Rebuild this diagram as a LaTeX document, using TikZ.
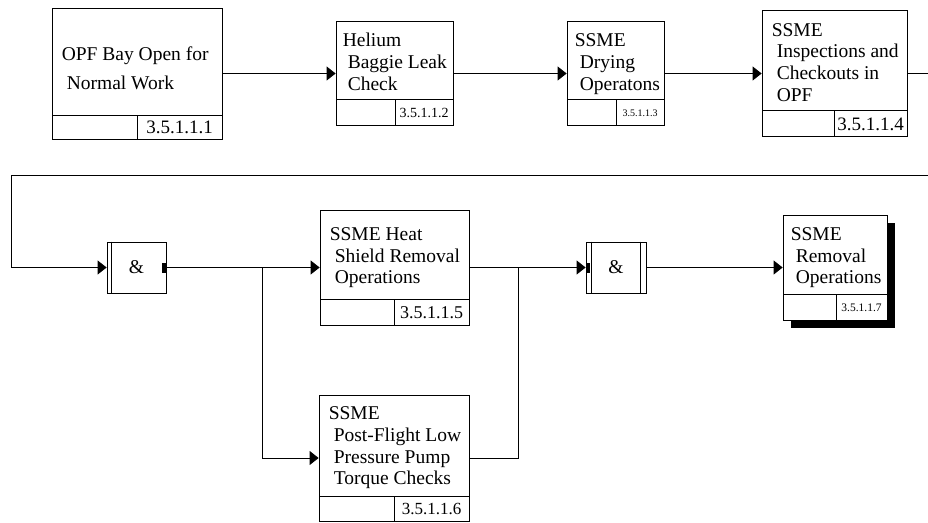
\documentclass[tikz,border=0pt]{standalone}
\usepackage{fontspec}
\setmainfont{Liberation Serif}
\usetikzlibrary{arrows.meta,calc,positioning,shadows}

\newcommand{\lineind}{\hspace*{5pt}}

\begin{document}
\begin{tikzpicture}[
  x=1pt, y=-1pt,
  font=\fontsize{19.5}{21.6}\selectfont,
  actbox/.style n args={2}{draw, line width=.8pt, inner sep=0pt, fill=white,
    path picture={
      \draw[line width=.8pt]
        ([yshift=#1]path picture bounding box.south west) --
        ([yshift=#1]path picture bounding box.south east);
      \draw[line width=.8pt]
        ([xshift=#2]path picture bounding box.south west) --
        ([xshift=#2,yshift=#1]path picture bounding box.south west);
    }},
  acttext/.style={anchor=base west, align=left, inner sep=0pt},
  numtext/.style={inner sep=0pt},
  andbox/.style={draw, line width=.8pt, minimum width=59pt, minimum height=51pt,
                 inner sep=0pt},
  arrow/.style={-{Triangle[length=9pt,width=14pt]}, line width=.8pt},
  link/.style={line width=.8pt},
]
\useasboundingbox (0,0) rectangle (928,522);

% first row
\node[actbox={24pt}{85pt}, minimum width=170pt, minimum height=131pt] (opf) at (137,73.5) {};
\node[acttext, font=\fontsize{19.5}{29.5}\selectfont] at ([xshift=10pt,yshift=-82pt]opf.north west)
 {OPF Bay Open for\\\lineind Normal Work};
\node[numtext, font=\fontsize{19}{21}\selectfont] at ($([xshift=85pt,yshift=24pt]opf.south west)!.5!(opf.south east)$) {3.5.1.1.1};

\node[actbox={26pt}{59pt}, minimum width=117pt, minimum height=104pt] (helium) at (394.5,73.5) {};
\node[acttext] at ([xshift=7pt,yshift=-69pt]helium.north west)
 {Helium\\\lineind Baggie Leak\\\lineind Check};
\node[numtext, font=\fontsize{14}{16}\selectfont] at ($([xshift=59pt,yshift=26pt]helium.south west)!.5!(helium.south east)$) {3.5.1.1.2};

\node[actbox={26pt}{49pt}, minimum width=97pt, minimum height=104pt] (drying) at (615.5,73.5) {};
\node[acttext] at ([xshift=8pt,yshift=-69pt]drying.north west)
 {SSME\\\lineind Drying\\\lineind Operatons};
\node[numtext, font=\fontsize{10}{12}\selectfont] at ($([xshift=49pt,yshift=26pt]drying.south west)!.5!(drying.south east)$) {3.5.1.1.3};

\node[actbox={26pt}{72pt}, minimum width=145pt, minimum height=126pt] (inspect) at (834.5,73.5) {};
\node[acttext] at ([xshift=10pt,yshift=-91pt]inspect.north west)
 {SSME\\\lineind Inspections and\\\lineind Checkouts in\\\lineind OPF};
\node[numtext, font=\fontsize{19}{21}\selectfont] at ($([xshift=72pt,yshift=26pt]inspect.south west)!.5!(inspect.south east)$) {3.5.1.1.4};

% second row
\node[andbox] (and1) at (136.5,267.5) {\&};
\draw[line width=.8pt] ([xshift=5pt]and1.north west) -- ([xshift=5pt]and1.south west);
\fill ([xshift=-4pt,yshift=5pt]and1.east) rectangle ([yshift=-5pt]and1.east);

\node[actbox={26pt}{74pt}, minimum width=149pt, minimum height=115pt] (shield) at (394.5,267.5) {};
\node[acttext] at ([xshift=10pt,yshift=-74pt]shield.north west)
 {SSME Heat\\\lineind Shield Removal\\\lineind Operations};
\node[numtext, font=\fontsize{18}{20}\selectfont] at ($([xshift=74pt,yshift=26pt]shield.south west)!.5!(shield.south east)$) {3.5.1.1.5};

\node[actbox={25pt}{75pt}, minimum width=150pt, minimum height=126pt] (torque) at (394,458) {};
\node[acttext] at ([xshift=10pt,yshift=-90pt]torque.north west)
 {SSME\\\lineind Post-Flight Low\\\lineind Pressure Pump\\\lineind Torque Checks};
\node[numtext, font=\fontsize{17}{19}\selectfont] at ($([xshift=75pt,yshift=25pt]torque.south west)!.5!(torque.south east)$) {3.5.1.1.6};

\node[andbox, minimum width=60pt] (and2) at (616,267.5) {\&};
\draw[line width=.8pt] ([xshift=6pt]and2.north west) -- ([xshift=6pt]and2.south west);
\draw[line width=.8pt] ([xshift=-6pt]and2.north east) -- ([xshift=-6pt]and2.south east);
\fill ([yshift=5pt]and2.west) rectangle ([xshift=4pt,yshift=-5pt]and2.west);

\node[actbox={26pt}{53pt}, minimum width=104pt, minimum height=105pt,
      drop shadow={shadow xshift=8pt, shadow yshift=-8pt, fill=black, opacity=1}] (removal) at (835,267.5) {};
\node[acttext] at ([xshift=8pt,yshift=-69pt]removal.north west)
 {SSME\\\lineind Removal\\\lineind Operations};
\node[numtext, font=\fontsize{11.5}{13}\selectfont] at ($([xshift=53pt,yshift=26pt]removal.south west)!.5!(removal.south east)$) {3.5.1.1.7};

% connectors
\coordinate (edge1) at (928,73.5);
\coordinate (edge2) at (928,175);
\coordinate (turn) at (11,175);
\coordinate (split1) at (262,267.5);
\coordinate (join2) at (518.5,267.5);

\draw[arrow] (opf.east) -- (helium.west);
\draw[arrow] (helium.east) -- (drying.west);
\draw[arrow] (drying.east) -- (inspect.west);
\draw[link] (inspect.east) -- (edge1);
\draw[arrow] (edge2) -- (turn) |- (and1.west);
\draw[arrow] (and1.east) -- (shield.west);
\draw[arrow] (split1) |- (torque.west);
\draw[arrow] (shield.east) -- (and2.west);
\draw[link] (torque.east) -| (join2);
\draw[arrow] (and2.east) -- (removal.west);
\end{tikzpicture}
\end{document}
